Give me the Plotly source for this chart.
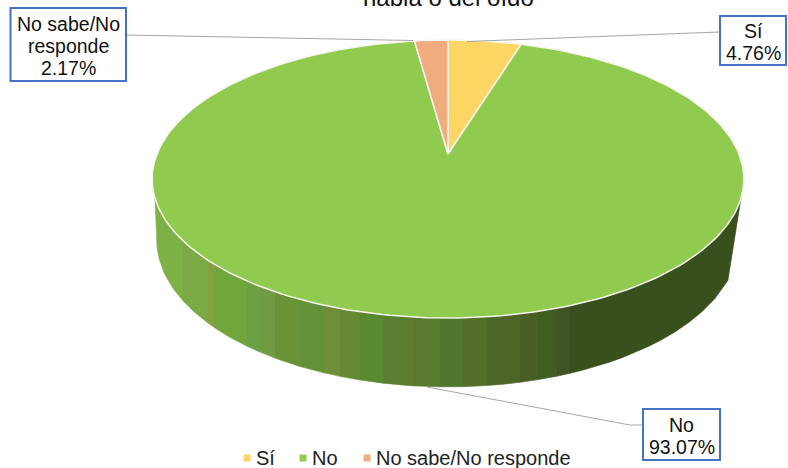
import numpy as np
import plotly.graph_objects as go

categories = ["Sí", "No", "No sabe/No responde"]
values = [4.76, 93.07, 2.17]
labels = ["4.76%", "93.07%", "2.17%"]
label_names = [["Sí"], ["No"], ["No sabe/No", "responde"]]
colors = ["#FDD663", "#90CB50", "#F0AB7F"]
title_tail = "habla o del oído"

# side-wall shading: right edge of each band and its colour, left to right
wall_edges = [183, 208, 215, 247, 260, 275, 300, 323, 340, 360, 383, 407, 415, 440,
              463, 487, 503, 520, 537, 557, 570, 745]
wall_colors = ["#7DB045", "#7BA946", "#84A040", "#70A63C", "#6BA045", "#719B42", "#6A9338",
               "#64923A", "#6E8F38", "#668A33", "#5A8A30", "#5A7F30", "#627A2C", "#5A7A2E",
               "#4F772D", "#536F2A", "#4C6827", "#4E6528", "#4A5F25", "#3E5E22", "#3F5422",
               "#38501B"]

CX, CY = 448.0, 154.0
A, B, K = 291.0, 134.5, 0.18
BOTTOM_SX, BOTTOM_SY, DEPTH = 0.985, 1.06, 59.0


def project(theta, sx=1.0, sy=1.0, drop=0.0):
    """Clockwise angle from 12 o'clock on the disc -> picture position."""
    u, v = np.sin(theta), np.cos(theta)
    w = 1 + K * v
    return CX + sx * A * u / w, CY - sy * B * v / w + drop


fig = go.Figure()

# side wall
top_t = np.radians(np.linspace(252, 108, 300))
bot_t = np.radians(np.linspace(260, 100, 300))
top_x, top_y = project(top_t)
bx, by = project(bot_t, BOTTOM_SX, BOTTOM_SY, DEPTH)
low_x = np.r_[top_x[0], bx, top_x[-1]]
low_y = np.r_[top_y[0], by, top_y[-1]]
left = top_x[0]
for right, c in zip(wall_edges, wall_colors):
    r = min(right, top_x[-1])
    xs = np.linspace(left, r, 14)
    yt = np.interp(xs, top_x, top_y)
    yb = np.interp(xs, low_x, low_y)
    fig.add_trace(go.Scatter(x=np.r_[xs, xs[::-1]], y=np.r_[yt, yb[::-1]], mode="lines",
                             fill="toself", fillcolor=c, line=dict(color=c, width=0.6),
                             hoverinfo="skip", showlegend=False))
    left = r

# top slices
start = 0.0
total = sum(values)
for name, val, col in zip(categories, values, colors):
    end = start + val / total * 2 * np.pi
    t = np.linspace(start, end, max(4, int(val * 3)))
    x, y = project(t)
    fig.add_trace(go.Scatter(x=np.r_[CX, x, CX], y=np.r_[CY, y, CY], mode="lines",
                             fill="toself", fillcolor=col, line=dict(color="#F6F6EE", width=1.5),
                             name=name, text=name, hoverinfo="text", showlegend=False))
    start = end

# leader lines
leaders = [([719, 467], [32, 41.5]), ([642, 630, 427], [425, 425, 387]), ([126, 413], [35, 40.5])]
for lx, ly in leaders:
    fig.add_trace(go.Scatter(x=lx, y=ly, mode="lines", line=dict(color="#A6A6A6", width=1),
                             hoverinfo="skip", showlegend=False))

# legend
legend_x = [247, 303, 367]
for name, col, lx in zip(categories, colors, legend_x):
    fig.add_trace(go.Scatter(x=[lx], y=[458], mode="markers", name=name, hoverinfo="name",
                             marker=dict(symbol="square", size=7, color=col), showlegend=False))
    fig.add_annotation(x=lx + 9, y=458, xref="x", yref="y", showarrow=False, text=name,
                       xanchor="left", yanchor="middle", borderpad=0, borderwidth=0,
                       font=dict(size=20, color="#222222"))

# data label boxes (x0, y0, x1, y1) and the height of their first text line
boxes = [(720, 16, 786, 65), (643, 409, 720, 460), (10.5, 8, 126, 81)]
first_line_y = [31, 424.5, 23.5]
LINE_STEP = 22.3
for (x0, y0, x1, y1), lines, lab, ly in zip(boxes, label_names, labels, first_line_y):
    fig.add_shape(type="rect", x0=x0, y0=y0, x1=x1, y1=y1, xref="x", yref="y",
                  fillcolor="white", line=dict(color="#4472C4", width=2), layer="above")
    for i, line in enumerate(lines + [lab]):
        fig.add_annotation(x=(x0 + x1) / 2, y=ly + i * LINE_STEP, xref="x", yref="y",
                           showarrow=False, text=line, yanchor="middle", borderpad=0,
                           font=dict(size=19.5, color="#111111"))

# title, clipped by the top of the picture as in the original
fig.add_annotation(x=448, y=13, xref="x", yref="y", showarrow=False, text=title_tail,
                   font=dict(size=24, color="#111111"), yanchor="bottom")

fig.update_layout(
    width=788, height=468, margin=dict(l=0, r=0, t=0, b=0),
    paper_bgcolor="white", plot_bgcolor="white",
    font=dict(family="Liberation Sans, Arial, sans-serif"),
    xaxis=dict(range=[0, 788], visible=False, fixedrange=True),
    yaxis=dict(range=[468, 0], visible=False, fixedrange=True),
    showlegend=False,
)
fig.write_html("out.html", config={"displayModeBar": False},
               post_script="document.body.style.margin='0';")
